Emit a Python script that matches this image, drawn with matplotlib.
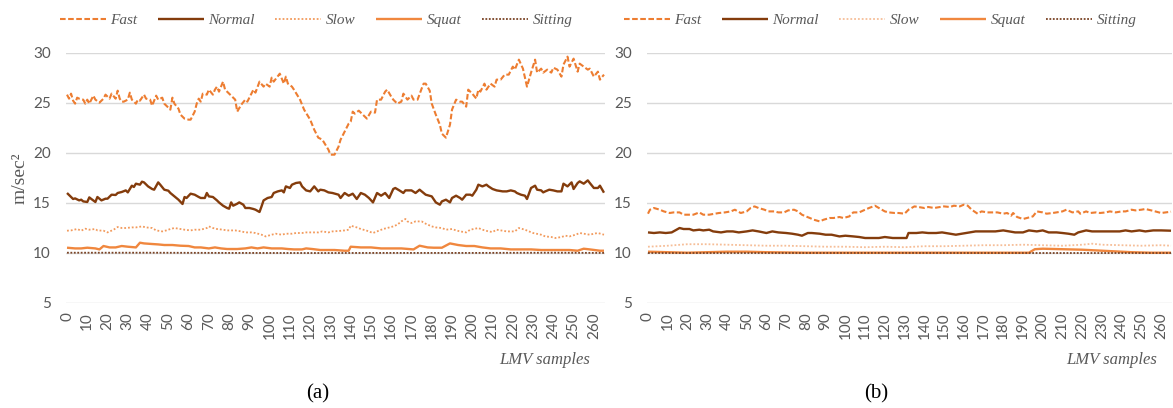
import matplotlib
matplotlib.use('Agg')
import matplotlib.pyplot as plt

# ---- panel (a) values (sample index, m/sec^2) ----
fast_a_x = [0, 1, 2, 3, 4, 5, 6, 8, 9, 10, 11, 13, 14, 16, 18, 19, 21, 22, 24, 25, 26, 27, 28, 30, 31, 32, 34, 35,
            36, 38, 39, 41, 42, 44, 45, 47, 48, 51, 52, 53, 55, 56, 58, 60, 61, 63, 64, 65, 66, 67, 69, 70, 72, 73,
            74, 75, 77, 78, 80, 83, 84, 86, 88, 89, 91, 92, 93, 95, 97, 98, 100, 101, 102, 105, 107, 108, 109, 111,
            112, 115, 117, 120, 122, 124, 126, 129, 130, 132, 134, 135, 137, 139, 140, 141, 142, 144, 146, 148, 150,
            152, 153, 155, 157, 158, 160, 161, 163, 165, 166, 168, 170, 171, 173, 175, 176, 177, 179, 180, 182, 184,
            185, 187, 189, 190, 192, 194, 195, 197, 198, 200, 202, 203, 204, 206, 207, 209, 211, 212, 214, 216, 218,
            220, 221, 223, 225, 227, 229, 231, 232, 234, 235, 237, 239, 240, 242, 244, 245, 247, 248, 250, 252, 253,
            255, 257, 258, 260, 262, 263, 265]
fast_a_y = [25.8, 25.4, 25.9, 25.2, 24.9, 25.5, 25.4, 25.3, 24.9, 25.3, 24.9, 25.7, 25.3, 25.0, 25.4, 25.8, 25.4,
            25.9, 25.4, 26.2, 25.4, 25.1, 25.1, 25.3, 26.0, 25.3, 24.9, 25.3, 25.2, 25.8, 25.4, 25.3, 24.7, 25.7,
            25.3, 25.5, 24.9, 24.3, 25.5, 24.9, 24.4, 23.8, 23.4, 23.3, 23.3, 24.1, 24.9, 25.4, 25.1, 25.9, 25.8,
            26.3, 25.8, 26.3, 26.6, 26.1, 27.1, 26.3, 25.9, 25.3, 24.1, 24.8, 25.3, 25.1, 25.9, 26.3, 26.0, 27.1,
            26.6, 26.9, 26.6, 27.5, 27.1, 27.9, 26.9, 27.6, 26.9, 26.6, 26.3, 25.3, 24.3, 23.3, 22.3, 21.5, 21.3,
            20.3, 19.8, 19.8, 20.6, 21.3, 22.1, 22.9, 23.1, 24.1, 23.9, 24.2, 23.8, 23.4, 24.1, 24.0, 25.3, 25.3,
            26.1, 26.3, 25.6, 25.3, 24.9, 25.1, 25.9, 25.3, 25.7, 25.3, 25.3, 26.4, 26.9, 26.9, 26.2, 24.9, 23.8,
            22.8, 21.9, 21.5, 22.8, 24.3, 25.3, 25.1, 25.1, 24.6, 26.3, 25.9, 25.4, 26.3, 26.1, 26.9, 26.3, 26.9,
            26.6, 27.3, 27.3, 27.8, 27.8, 28.6, 28.3, 29.3, 28.4, 26.6, 28.0, 29.3, 28.0, 28.4, 28.0, 28.3, 28.0,
            28.5, 28.3, 27.6, 28.8, 29.6, 28.6, 29.4, 28.1, 28.9, 28.6, 28.3, 28.4, 27.6, 28.1, 27.3, 27.8]

normal_a_x = [0, 2, 3, 4, 6, 7, 8, 10, 11, 12, 14, 15, 17, 19, 20, 22, 24, 25, 27, 29, 30, 32, 33, 34, 36, 37, 38,
              40, 42, 43, 45, 46, 48, 50, 51, 53, 55, 57, 58, 59, 61, 63, 65, 66, 68, 69, 70, 72, 74, 75, 77, 79,
              80, 81, 82, 84, 85, 87, 88, 90, 92, 93, 95, 96, 97, 99, 101, 102, 104, 106, 107, 108, 110, 111, 113,
              115, 116, 118, 120, 122, 124, 125, 127, 129, 131, 134, 135, 137, 139, 141, 143, 145, 147, 149, 151,
              153, 155, 157, 159, 161, 162, 164, 166, 167, 170, 172, 174, 176, 177, 180, 182, 184, 185, 187, 189,
              190, 192, 194, 195, 197, 199, 200, 202, 203, 205, 207, 208, 210, 212, 215, 217, 219, 221, 222, 224,
              226, 227, 229, 231, 232, 234, 235, 236, 238, 240, 242, 244, 245, 247, 249, 250, 252, 253, 255, 257,
              258, 260, 262, 263, 265]
normal_a_y = [15.97, 15.57, 15.37, 15.43, 15.23, 15.3, 15.13, 15.07, 15.53, 15.37, 15.07, 15.57, 15.23, 15.4, 15.4,
              15.8, 15.77, 15.97, 16.07, 16.23, 16.03, 16.7, 16.57, 16.9, 16.8, 17.1, 17.03, 16.63, 16.37, 16.3,
              17.03, 16.8, 16.3, 16.2, 15.97, 15.63, 15.3, 14.87, 15.57, 15.47, 15.9, 15.8, 15.57, 15.47, 15.47,
              15.97, 15.63, 15.57, 15.23, 15.03, 14.7, 14.47, 14.4, 15.03, 14.7, 14.9, 15.03, 14.8, 14.47, 14.47,
              14.37, 14.3, 14.07, 14.63, 15.23, 15.47, 15.57, 15.97, 16.13, 16.23, 16.03, 16.63, 16.47, 16.8, 16.97,
              17.03, 16.63, 16.23, 16.13, 16.63, 16.13, 16.3, 16.23, 16.03, 15.97, 15.8, 15.47, 15.97, 15.7, 15.9,
              15.37, 15.97, 15.8, 15.47, 15.03, 15.97, 15.7, 15.97, 15.47, 16.37, 16.47, 16.23, 15.97, 16.23, 16.23,
              15.97, 16.3, 15.97, 15.8, 15.63, 15.03, 14.8, 15.13, 15.3, 15.03, 15.47, 15.7, 15.47, 15.3, 15.8, 15.8,
              15.7, 16.3, 16.8, 16.63, 16.8, 16.63, 16.37, 16.23, 16.13, 16.13, 16.23, 16.13, 15.97, 15.8, 15.7,
              15.37, 16.47, 16.7, 16.3, 16.23, 16.03, 16.13, 16.3, 16.23, 16.13, 16.13, 16.9, 16.63, 17.03, 16.37,
              16.97, 17.13, 16.9, 17.23, 16.97, 16.47, 16.47, 16.7, 16.0]

slow_a_x = [0, 2, 5, 7, 9, 11, 14, 15, 18, 20, 23, 25, 27, 29, 32, 34, 37, 39, 42, 44, 47, 49, 51, 53, 56, 58, 61,
            63, 66, 69, 70, 72, 74, 77, 79, 83, 86, 88, 91, 93, 96, 98, 101, 103, 106, 108, 111, 113, 116, 118, 121,
            124, 126, 129, 131, 134, 137, 139, 140, 143, 145, 148, 151, 153, 156, 158, 161, 163, 165, 167, 168, 170,
            172, 175, 177, 180, 182, 185, 187, 190, 192, 194, 197, 199, 203, 205, 208, 210, 212, 215, 217, 221, 223,
            226, 228, 230, 234, 236, 239, 241, 244, 246, 248, 251, 253, 255, 258, 260, 262, 265]
slow_a_y = [12.2, 12.23, 12.37, 12.2, 12.4, 12.3, 12.37, 12.23, 12.2, 12.03, 12.3, 12.57, 12.47, 12.47, 12.53, 12.53,
            12.63, 12.53, 12.47, 12.23, 12.13, 12.23, 12.37, 12.47, 12.37, 12.3, 12.23, 12.3, 12.3, 12.47, 12.63,
            12.47, 12.37, 12.3, 12.23, 12.23, 12.13, 12.03, 12.03, 11.97, 11.8, 11.63, 11.8, 11.9, 11.8, 11.9, 11.9,
            11.97, 11.97, 12.03, 12.03, 12.03, 12.13, 12.03, 12.13, 12.17, 12.23, 12.3, 12.7, 12.53, 12.37, 12.2,
            11.97, 12.13, 12.37, 12.47, 12.63, 12.8, 13.13, 13.37, 13.13, 12.97, 13.13, 13.13, 12.9, 12.63, 12.53,
            12.47, 12.3, 12.37, 12.23, 12.13, 12.03, 12.3, 12.47, 12.3, 12.13, 12.07, 12.3, 12.2, 12.13, 12.13,
            12.47, 12.3, 12.13, 11.97, 11.8, 11.63, 11.57, 11.47, 11.57, 11.7, 11.63, 11.8, 11.97, 11.9, 11.8,
            11.9, 11.97, 11.8]

squat_a_x = [0, 4, 7, 10, 14, 16, 18, 21, 24, 27, 30, 34, 36, 38, 42, 45, 48, 52, 56, 60, 63, 66, 70, 73, 76, 79,
             84, 88, 91, 94, 97, 101, 106, 109, 112, 116, 118, 121, 125, 127, 132, 137, 139, 140, 145, 150, 155, 160,
             165, 171, 174, 178, 181, 185, 189, 193, 197, 201, 205, 209, 214, 219, 224, 229, 234, 239, 244, 248, 252,
             255, 258, 263, 265]
squat_a_y = [10.5, 10.43, 10.43, 10.5, 10.43, 10.33, 10.67, 10.53, 10.53, 10.67, 10.6, 10.53, 11.0, 10.93, 10.87,
             10.83, 10.77, 10.77, 10.7, 10.67, 10.53, 10.53, 10.43, 10.53, 10.43, 10.37, 10.37, 10.43, 10.53, 10.43,
             10.53, 10.43, 10.43, 10.37, 10.33, 10.33, 10.43, 10.37, 10.27, 10.27, 10.27, 10.2, 10.2, 10.6, 10.53,
             10.53, 10.43, 10.43, 10.43, 10.33, 10.7, 10.53, 10.5, 10.5, 10.93, 10.77, 10.67, 10.67, 10.53, 10.43,
             10.43, 10.33, 10.33, 10.33, 10.27, 10.27, 10.27, 10.27, 10.2, 10.4, 10.33, 10.2, 10.2]

sitting_a_x = [0, 40, 80, 120, 160, 200, 240, 265]
sitting_a_y = [10.0, 10.0, 9.98, 9.97, 9.98, 9.98, 10.0, 9.98]

# ---- panel (b) ----
fast_b_x = [0, 1, 3, 6, 8, 11, 13, 16, 18, 21, 23, 26, 28, 31, 33, 36, 39, 42, 44, 47, 50, 52, 54, 56, 59, 61, 64,
            66, 69, 71, 74, 76, 78, 80, 82, 84, 87, 89, 92, 94, 97, 99, 102, 104, 107, 110, 112, 115, 117, 120, 122,
            125, 127, 130, 132, 135, 137, 140, 142, 145, 148, 150, 153, 155, 158, 160, 162, 164, 167, 169, 172, 175,
            177, 180, 182, 184, 185, 187, 190, 192, 195, 197, 200, 202, 205, 207, 210, 212, 215, 218, 219, 222, 224,
            227, 229, 232, 234, 237, 240, 242, 245, 247, 250, 252, 255, 257, 260, 265]
fast_b_y = [13.9, 14.3, 14.47, 14.3, 14.13, 13.97, 14.03, 14.03, 13.8, 13.8, 13.8, 14.03, 13.8, 13.8, 13.87, 13.97,
            14.03, 14.13, 14.3, 13.97, 14.13, 14.47, 14.63, 14.47, 14.3, 14.13, 14.13, 14.03, 14.03, 14.23, 14.3,
            14.13, 13.8, 13.63, 13.47, 13.3, 13.13, 13.3, 13.47, 13.47, 13.57, 13.47, 13.63, 14.03, 14.03, 14.3,
            14.47, 14.7, 14.47, 14.13, 14.03, 13.97, 13.97, 13.9, 14.3, 14.63, 14.57, 14.47, 14.57, 14.47, 14.57,
            14.63, 14.57, 14.7, 14.63, 14.8, 14.7, 14.3, 13.9, 14.13, 14.03, 14.03, 14.03, 13.9, 13.97, 13.7, 13.97,
            13.57, 13.37, 13.47, 13.63, 14.13, 14.03, 13.9, 13.97, 14.03, 14.13, 14.3, 14.03, 14.13, 13.9, 14.13,
            13.97, 14.03, 13.97, 14.03, 14.13, 14.03, 14.13, 14.13, 14.3, 14.23, 14.3, 14.37, 14.23, 14.13, 13.97,
            14.1]

normal_b_x = [0, 3, 6, 9, 12, 16, 18, 21, 23, 26, 28, 31, 33, 37, 40, 43, 46, 50, 53, 56, 60, 63, 66, 70, 73, 76,
              78, 81, 83, 87, 90, 93, 97, 100, 104, 107, 110, 114, 117, 120, 124, 127, 131, 132, 136, 139, 142, 146,
              149, 153, 156, 159, 163, 166, 170, 173, 176, 180, 183, 186, 190, 193, 197, 200, 203, 207, 210, 213,
              216, 218, 222, 225, 229, 232, 235, 239, 242, 245, 249, 252, 256, 260, 265]
normal_b_y = [12.03, 11.97, 12.03, 11.97, 12.03, 12.47, 12.37, 12.37, 12.23, 12.3, 12.23, 12.3, 12.13, 12.03, 12.13,
              12.13, 12.03, 12.13, 12.23, 12.13, 11.97, 12.13, 12.03, 11.97, 11.9, 11.8, 11.7, 11.97, 11.97, 11.9,
              11.8, 11.8, 11.63, 11.7, 11.63, 11.57, 11.47, 11.47, 11.47, 11.57, 11.47, 11.47, 11.47, 11.97, 11.97,
              12.03, 11.97, 11.97, 12.03, 11.9, 11.8, 11.9, 12.03, 12.13, 12.13, 12.13, 12.13, 12.23, 12.13, 12.03,
              12.03, 12.23, 12.13, 12.23, 12.03, 12.03, 11.97, 11.9, 11.8, 12.03, 12.23, 12.13, 12.13, 12.13, 12.13,
              12.13, 12.23, 12.13, 12.23, 12.13, 12.23, 12.23, 12.2]

slow_b_x = [0, 10, 20, 30, 40, 50, 60, 70, 80, 90, 100, 110, 120, 130, 140, 150, 160, 170, 180, 190, 200, 210, 220,
            225, 230, 240, 250, 260, 265]
slow_b_y = [10.6, 10.7, 10.85, 10.85, 10.8, 10.75, 10.7, 10.7, 10.65, 10.6, 10.6, 10.55, 10.6, 10.55, 10.65, 10.65,
            10.7, 10.75, 10.75, 10.8, 10.75, 10.7, 10.8, 10.9, 10.8, 10.75, 10.7, 10.75, 10.7]

squat_b_x = [0, 10, 20, 30, 40, 50, 60, 80, 100, 120, 140, 160, 180, 193, 196, 200, 210, 220, 230, 240, 245, 255, 265]
squat_b_y = [10.1, 10.05, 10.0, 10.05, 10.1, 10.1, 10.05, 10.0, 10.0, 10.0, 10.0, 10.0, 10.0, 10.0, 10.35, 10.4,
             10.35, 10.3, 10.2, 10.1, 10.05, 10.0, 10.0]

sitting_b_x = [0, 60, 120, 180, 240, 265]
sitting_b_y = [9.97, 9.97, 9.98, 9.97, 9.97, 9.97]

LABELS = ['Fast', 'Normal', 'Slow', 'Squat', 'Sitting']
Y_TICKS = [5, 10, 15, 20, 25, 30]
X_TICKS = list(range(0, 261, 10))

GREY = '#595959'
ORANGE = '#ED7D31'
BROWN = '#843C0C'
SERIF = 'Liberation Serif'
SANS = 'Lato'


def draw_panel(ax, series, slow_color):
    styles = [
        dict(color=ORANGE, lw=1.5, ls=(0, (2.7, 1.2))),
        dict(color=BROWN, lw=1.7, ls='-'),
        dict(color=slow_color, lw=1.3, ls=(0, (1, 1.1))),
        dict(color='#F0873E', lw=1.7, ls='-'),
        dict(color='#7A4325', lw=1.3, ls=(0, (1, 0.9))),
    ]
    lines = []
    for (xs, ys), st, lab in zip(series, styles, LABELS):
        ln, = ax.plot(xs, ys, label=lab, solid_capstyle='butt', **st)
        lines.append(ln)

    ax.set_xlim(-0.5, 265.5)
    ax.set_ylim(5, 30)
    ax.set_yticks(Y_TICKS)
    ax.set_xticks(X_TICKS)
    ax.set_xticklabels([str(t) for t in X_TICKS], rotation=90)
    ax.tick_params(axis='both', length=0, colors=GREY, labelsize=11)
    ax.tick_params(axis='y', pad=11)
    ax.tick_params(axis='x', pad=7)
    for lab in ax.get_xticklabels() + ax.get_yticklabels():
        lab.set_fontfamily(SANS)
    for sp in ax.spines.values():
        sp.set_visible(False)
    ax.grid(axis='y', color='#D9D9D9', lw=1.0)
    ax.set_axisbelow(True)
    return lines


def main():
    fig = plt.figure(figsize=(11.73, 4.08), dpi=100)
    ax_a = fig.add_axes([66 / 1173, 0.258, 539 / 1173, 0.613])
    ax_b = fig.add_axes([647 / 1173, 0.258, 525 / 1173, 0.613])

    series_a = [(fast_a_x, fast_a_y), (normal_a_x, normal_a_y), (slow_a_x, slow_a_y),
                (squat_a_x, squat_a_y), (sitting_a_x, sitting_a_y)]
    series_b = [(fast_b_x, fast_b_y), (normal_b_x, normal_b_y), (slow_b_x, slow_b_y),
                (squat_b_x, squat_b_y), (sitting_b_x, sitting_b_y)]

    lines_a = draw_panel(ax_a, series_a, '#F29A5C')
    lines_b = draw_panel(ax_b, series_b, '#F6BE98')

    legend_font = dict(family=SERIF, style='italic', size=11)
    for lines, cx in [(lines_a, 316), (lines_b, 880)]:
        leg = fig.legend(handles=lines, labels=LABELS, loc='center', ncol=5, frameon=False,
                         bbox_to_anchor=(cx / 1173, 1 - 20 / 408), prop=legend_font,
                         handlelength=3.0, handletextpad=0.3, columnspacing=1.35)
        for t in leg.get_texts():
            t.set_color(GREY)

    fig.text(20 / 1173, 1 - 178 / 408, 'm/sec²', rotation=90, ha='center', va='center',
             family=SERIF, size=14, color=GREY)
    for x_right in (590, 1157):
        fig.text(x_right / 1173, 1 - 360 / 408, 'LMV samples', ha='right', va='center',
                 family=SERIF, style='italic', size=12, color=GREY)
    fig.text(318 / 1173, 1 - 394 / 408, '(a)', ha='center', va='center', family=SERIF, size=15, color='black')
    fig.text(876 / 1173, 1 - 394 / 408, '(b)', ha='center', va='center', family=SERIF, size=15, color='black')

    fig.savefig('out.png', dpi=100)
    plt.close(fig)


if __name__ == '__main__':
    main()
